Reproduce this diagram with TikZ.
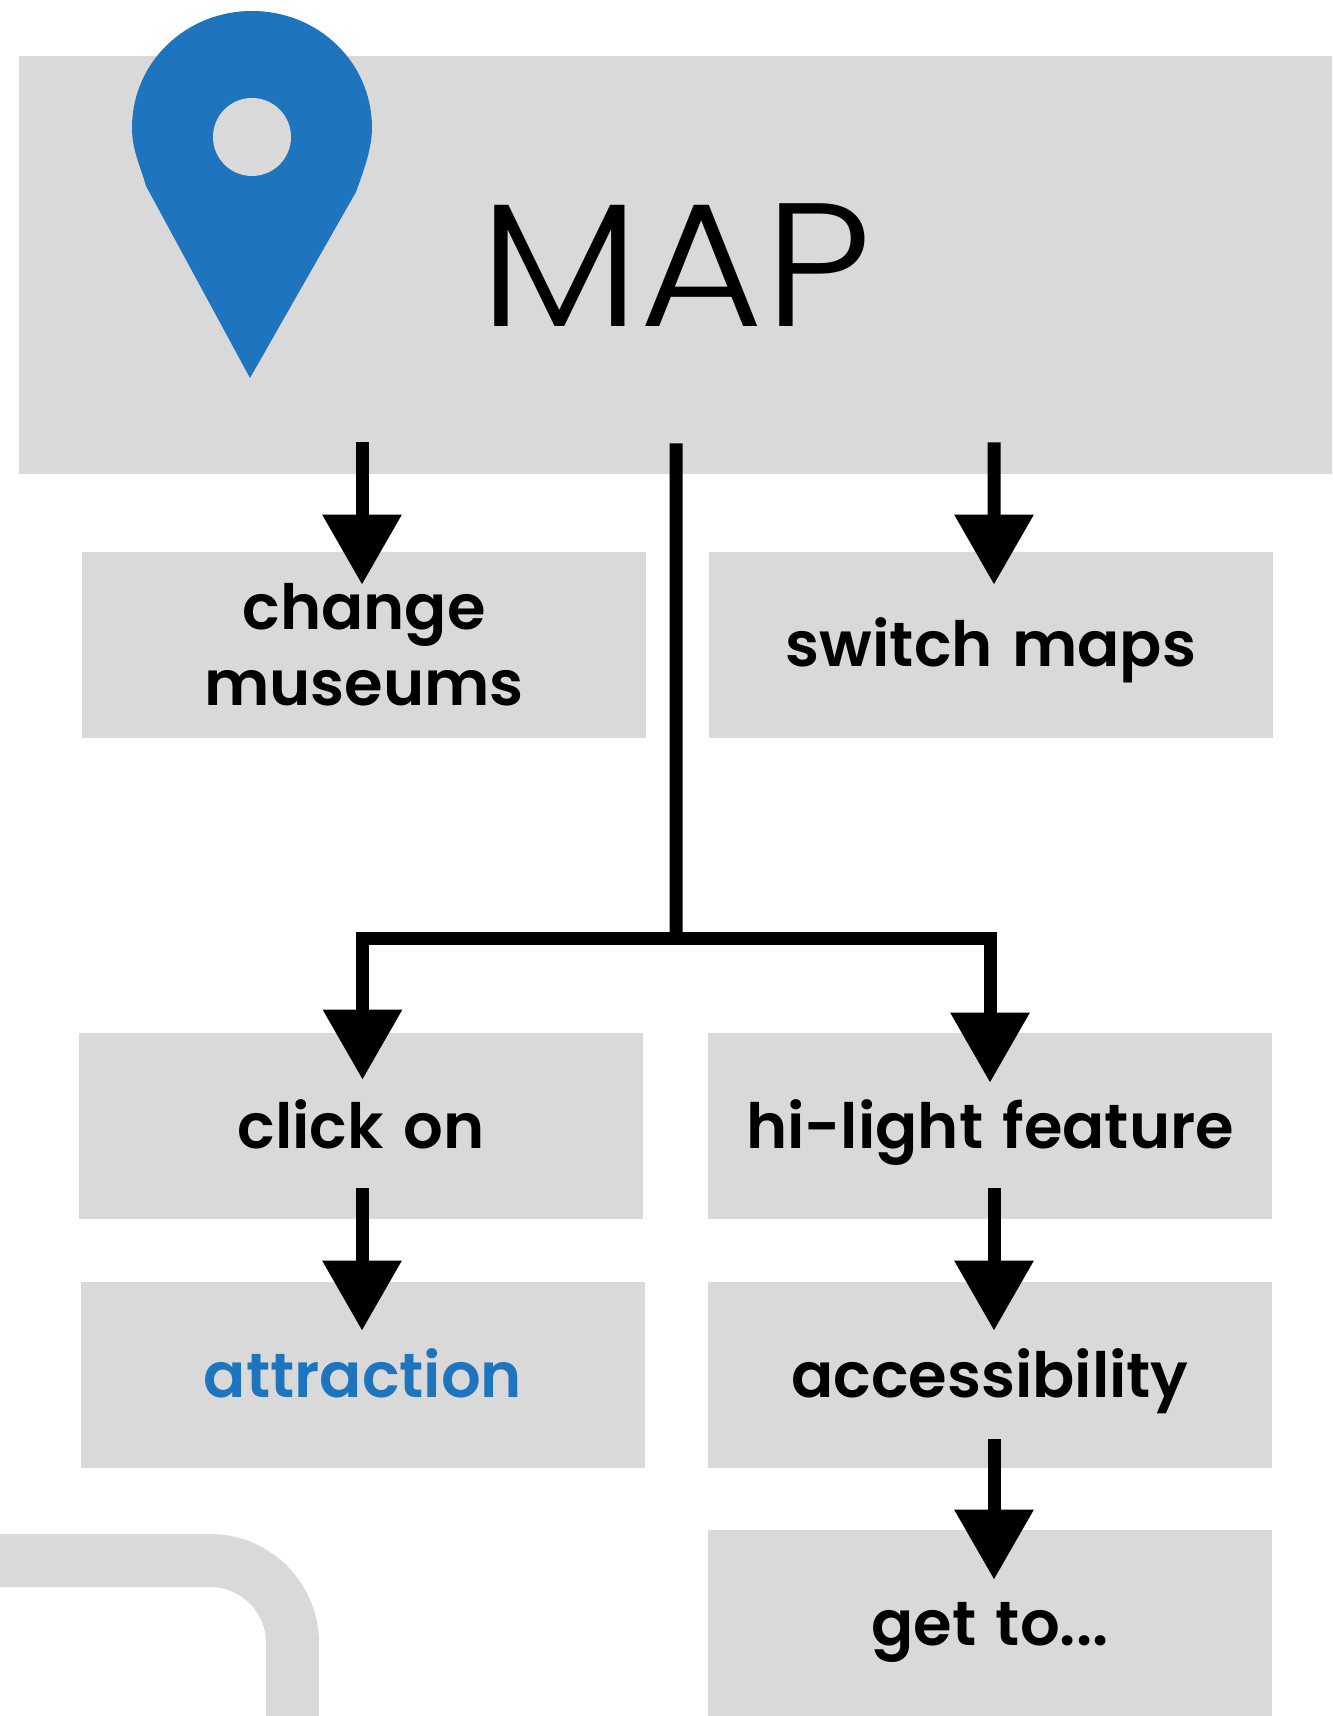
\documentclass[tikz,border=0pt]{standalone}
\usepackage{fontspec}
\usetikzlibrary{arrows.meta}
\newfontfamily\mapfont[FakeStretch=1.085]{Poppins Light}
\newfontfamily\labelfont[WordSpace=1.3]{Poppins SemiBold}
\definecolor{boxgray}{HTML}{D9D9D9}
\definecolor{pinblue}{HTML}{1F75BD}
\tikzset{
	box/.style={fill=boxgray,inner sep=0pt,minimum width=11.28cm,minimum height=3.72cm,text height=0.88cm,text depth=0pt,font=\labelfont\fontsize{35.5}{43.5}\selectfont},
	flow/.style={-{Triangle[length=14mm,width=15.2mm]},line width=0.26cm,line join=miter}
}
\begin{document}
\begin{tikzpicture}[x=0.02cm,y=-0.02cm]
	\path[use as bounding box,clip] (0,0) rectangle (1332,1716);
	%track
	\draw [boxgray,line width=1.06cm,rounded corners=1.65cm] (-20,1560.5) -- (292.5,1560.5) -- (292.5,1740);
	%header
	\node [fill=boxgray,inner sep=0pt,minimum width=26.26cm,minimum height=8.36cm,font=\mapfont\fontsize{100}{110}\selectfont] (map) at (675.5,265) {MAP};
	%pin
	\fill [pinblue] (250,378) -- (146,186) .. controls (140,165) and (132,150) .. (132,128) .. controls (132,62) and (186,11) .. (252,11) .. controls (318,11) and (372,62) .. (372,128) .. controls (372,150) and (362,175) .. (356,192) -- cycle;
	\fill [boxgray] (252,137) circle (0.78cm);
	%row 1
	\node [box,align=center,text height=2.44cm] (change) at (364,645) {change\\museums};
	\node [box] (switch) at (991,645) {switch maps};
	%row 2
	\node [box] (click) at (361,1126) {click on};
	\node [box] (hilight) at (990,1126) {hi-light feature};
	%row 3
	\node [box,text=pinblue] (attraction) at (363,1375) {attraction};
	\node [box] (access) at (990,1375) {accessibility};
	%row 4
	\node [box] (getto) at (990,1623) {get to...};
	%arrows
	\draw [flow] ([shift={(-313.5,-32)}]map.south) -- ([shift={(-2,33)}]change.north);
	\draw [flow] ([shift={(318.5,-32)}]map.south) -- ([shift={(3,33)}]switch.north);
	\coordinate (fork) at (676,938);
	\draw [line width=0.26cm] ([shift={(0.5,-31)}]map.south) -- (fork);
	\draw [flow] (fork) -| ([shift={(1.5,47)}]click.north);
	\draw [flow] (fork) -| ([shift={(0,50)}]hilight.north);
	\draw [flow] ([shift={(1,-31)}]click.south) -- ([shift={(-1,49)}]attraction.north);
	\draw [flow] ([shift={(4,-31)}]hilight.south) -- ([shift={(4,49)}]access.north);
	\draw [flow] ([shift={(4,-29)}]access.south) -- ([shift={(4,50)}]getto.north);
\end{tikzpicture}
\end{document}
